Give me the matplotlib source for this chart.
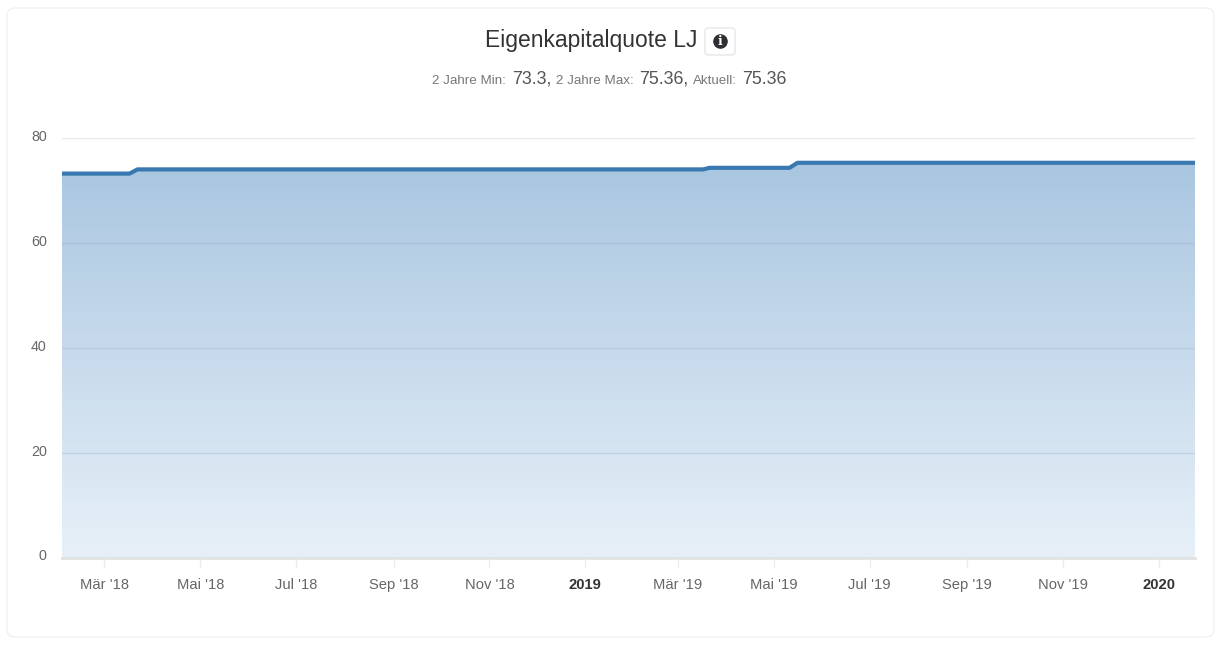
import datetime as dt

import matplotlib
matplotlib.use("Agg")
import matplotlib.dates as mdates
import matplotlib.pyplot as plt
import numpy as np
from matplotlib.patches import FancyBboxPatch
from matplotlib.transforms import ScaledTranslation

plt.rcParams['font.family'] = ['Liberation Sans', 'DejaVu Sans']

W, H = 1222, 646

# values
dates = [dt.date(2018, 2, 2), dt.date(2018, 3, 17), dt.date(2018, 3, 22),
         dt.date(2019, 3, 17), dt.date(2019, 3, 21), dt.date(2019, 5, 11),
         dt.date(2019, 5, 16), dt.date(2020, 1, 24)]
quote = [73.3, 73.3, 74.1, 74.1, 74.4, 74.4, 75.36, 75.36]

tick_dates = [dt.date(2018, 3, 1), dt.date(2018, 5, 1), dt.date(2018, 7, 1),
              dt.date(2018, 9, 1), dt.date(2018, 11, 1), dt.date(2019, 1, 1),
              dt.date(2019, 3, 1), dt.date(2019, 5, 1), dt.date(2019, 7, 1),
              dt.date(2019, 9, 1), dt.date(2019, 11, 1), dt.date(2020, 1, 1)]
tick_labels = ["Mär '18", "Mai '18", "Jul '18", "Sep '18", "Nov '18", "2019",
               "Mär '19", "Mai '19", "Jul '19", "Sep '19", "Nov '19", "2020"]
y_ticks = [0, 20, 40, 60, 80]

title = "Eigenkapitalquote LJ"
stats = [("2 Jahre Min:", 432, 9.6, "#777777"), ("73.3,", 512, 12.8, "#555555"),
         ("2 Jahre Max:", 556, 9.6, "#777777"), ("75.36,", 639, 12.8, "#555555"),
         ("Aktuell:", 693, 9.6, "#777777"), ("75.36", 742, 12.8, "#555555")]


def px(x, y):
    return x / W, 1 - y / H


fig = plt.figure(figsize=(W / 100, H / 100), dpi=100, facecolor="white")

# card behind the chart
bg = fig.add_axes([0, 0, 1, 1], zorder=0)
bg.set_xlim(0, W)
bg.set_ylim(H, 0)
bg.axis("off")
bg.add_patch(FancyBboxPatch((7, 8), 1207, 629, boxstyle="round,pad=0,rounding_size=8",
                            fc="white", ec="#eeeeee", lw=0.8))
# info button
bg.add_patch(FancyBboxPatch((705, 28), 30, 27, boxstyle="round,pad=0,rounding_size=3",
                            fc="white", ec="#e2e2e2", lw=0.8))
bg.plot([720], [41], "o", ms=10.5, color="#2f2f33", mew=0)
bg.text(720, 41.3, "i", color="white", fontsize=9, fontweight="bold",
        ha="center", va="center", family=['DejaVu Serif'])

ax = fig.add_axes([62 / W, (H - 557.5) / H, (1195 - 62) / W, 419 / H], zorder=1)
ax.patch.set_alpha(0)

x = mdates.date2num(dates)

# gradient fill below the line
poly = ax.fill_between(dates, quote, 0, color="none")
grad = np.linspace(0, 1, 256).reshape(-1, 1, 1) * np.array([0xe7 - 0xa9, 0xf0 - 0xc6, 0xf8 - 0xe0]) \
    + np.array([0xa9, 0xc6, 0xe0])
img = ax.imshow(grad / 255, extent=[x[0], x[-1], 0, max(quote)], aspect="auto",
                origin="upper", zorder=1)
img.set_clip_path(poly.get_paths()[0], transform=ax.transData)
ax.set_xlim(x[0], x[-1])
ax.set_ylim(0, 80)

ax.set_yticks(y_ticks)
ax.grid(axis="y", color="#6f93b5", alpha=0.2, lw=1, zorder=2)
ax.set_axisbelow(False)
ax.yaxis.get_gridlines()[-1].set_color("#e9e9e9")
ax.yaxis.get_gridlines()[-1].set_alpha(1)

ax.plot(dates, quote, color="#3a78b2", lw=3, zorder=3, solid_joinstyle="round")

for s in ["top", "left", "right"]:
    ax.spines[s].set_visible(False)
ax.spines["bottom"].set_color("#e2e2e2")
ax.spines["bottom"].set_linewidth(2)

ax.set_xticks(mdates.date2num(tick_dates))
ax.set_xticklabels(tick_labels)
ax.tick_params(axis="x", length=7, width=1, color="#ececec", pad=7.5, labelsize=10.6,
               labelcolor="#666666")
ax.tick_params(axis="y", length=0, pad=11, labelsize=10.3, labelcolor="#666666")
for lab in ax.get_xticklabels():
    if lab.get_text() in ("2019", "2020"):
        lab.set_fontweight("bold")
        lab.set_color("#333333")
for lab in ax.get_yticklabels():
    lab.set_transform(lab.get_transform() + ScaledTranslation(0, 2.5 / 100, fig.dpi_scale_trans))

tx, ty = px(591, 40)
fig.text(tx, ty, title, fontsize=16.5, color="#333333", ha="center", va="center")
for txt, xp, size, col in stats:
    tx, ty = px(xp, 84)
    fig.text(tx, ty, txt, fontsize=size, color=col, ha="left", va="baseline")

fig.savefig("out.png", dpi=100)
